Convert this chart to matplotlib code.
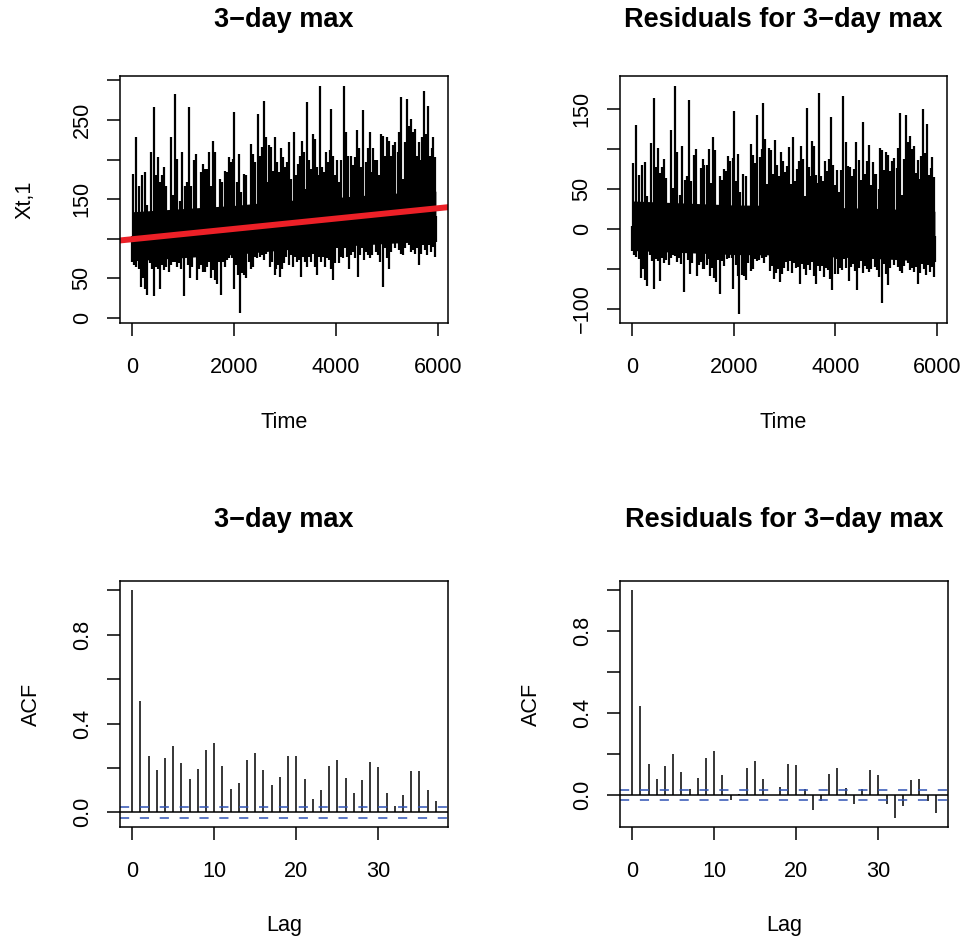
import numpy as np
import matplotlib.pyplot as plt

plt.rcParams['font.family'] = ['Liberation Sans', 'DejaVu Sans']

# 3-day max series: upper spike tips and lower spike tips
up_t = [20, 79, 138, 197, 262, 301, 380, 425, 471, 510, 549, 589, 628, 674, 719,
        759, 798, 844, 883, 942, 987, 1033, 1079, 1125, 1164, 1210, 1255, 1308,
        1347, 1386, 1425, 1465, 1510, 1556, 1595, 1634, 1687, 1726, 1765, 1818,
        1857, 1896, 1935, 1981, 2007, 2053, 2092, 2131, 2190, 2236, 2275, 2334,
        2373, 2419, 2464, 2510, 2549, 2582, 2621, 2660, 2693, 2732, 2771, 2811,
        2850, 2889, 2928, 2968, 3007, 3046, 3085, 3124, 3170, 3209, 3249, 3288,
        3327, 3366, 3405, 3438, 3477, 3510, 3549, 3588, 3628, 3660, 3687, 3726,
        3765, 3798, 3837, 3876, 3909, 3948, 3987, 4026, 4065, 4105, 4150, 4203,
        4242, 4288, 4327, 4366, 4412, 4458, 4497, 4536, 4582, 4621, 4660, 4699,
        4732, 4771, 4810, 4850, 4889, 4928, 4967, 5007, 5046, 5085, 5124, 5163,
        5209, 5242, 5281, 5320, 5360, 5399, 5431, 5471, 5503, 5542, 5582, 5621,
        5660, 5693, 5726, 5765, 5804, 5843, 5876, 5909, 5941]
up_v = [182, 229, 167, 180, 184, 142, 209, 266, 180, 203, 172, 180, 190, 167, 125,
        228, 155, 283, 201, 148, 209, 167, 172, 267, 167, 199, 207, 130,
        184, 195, 188, 188, 209, 167, 224, 209, 132, 176, 172, 186,
        184, 203, 197, 201, 260, 172, 207, 159, 182, 180, 140, 220,
        207, 197, 258, 205, 216, 274, 228, 172, 218, 216, 186, 228,
        197, 184, 214, 203, 190, 197, 222, 176, 235, 180, 195, 205,
        224, 209, 163, 273, 199, 188, 232, 226, 190, 180, 293, 190,
        184, 209, 197, 212, 264, 205, 180, 199, 172, 199, 293, 235,
        205, 205, 193, 203, 237, 214, 190, 262, 197, 214, 235, 184,
        214, 199, 199, 180, 232, 230, 205, 228, 224, 205, 218, 222,
        209, 235, 279, 176, 222, 277, 243, 251, 235, 239, 205, 222,
        199, 228, 287, 232, 268, 205, 214, 228, 203]

dn_t = [1, 40, 79, 131, 170, 223, 262, 295, 347, 393, 432, 471, 510, 549, 589,
        628, 674, 719, 759, 798, 844, 883, 929, 968, 1020, 1059, 1098, 1138,
        1177, 1216, 1268, 1308, 1347, 1386, 1425, 1465, 1504, 1543, 1582, 1621,
        1661, 1700, 1739, 1778, 1818, 1870, 1909, 1961, 1994, 2039, 2079, 2111,
        2157, 2203, 2242, 2288, 2334, 2373, 2419, 2458, 2503, 2549, 2588, 2628,
        2667, 2713, 2752, 2798, 2830, 2870, 2909, 2948, 2987, 3026, 3072, 3111,
        3151, 3190, 3229, 3268, 3307, 3347, 3386, 3425, 3464, 3504, 3543, 3582,
        3621, 3660, 3700, 3739, 3778, 3817, 3857, 3896, 3935, 3987, 4020, 4052,
        4092, 4131, 4170, 4209, 4261, 4301, 4340, 4379, 4425, 4471, 4510, 4549,
        4588, 4627, 4667, 4706, 4745, 4784, 4824, 4863, 4915, 4954, 4993, 5033,
        5072, 5111, 5150, 5190, 5229, 5268, 5307, 5346, 5386, 5425, 5464, 5503,
        5542, 5582, 5621, 5660, 5699, 5739, 5778, 5817, 5856, 5895, 5935, 5960]
dn_v = [71, 67, 64, 62, 39, 50, 37, 29, 69, 62, 27, 64, 62, 37, 67,
        60, 64, 58, 67, 71, 71, 64, 69, 62, 27, 77, 67, 50,
        64, 81, 48, 62, 67, 58, 58, 64, 71, 50, 60, 48,
        43, 71, 29, 71, 64, 73, 75, 75, 37, 67, 54, 6,
        56, 54, 50, 71, 62, 64, 77, 75, 77, 79, 73, 81,
        88, 64, 71, 54, 62, 67, 52, 62, 69, 77, 67, 79,
        64, 77, 71, 73, 52, 77, 71, 64, 77, 71, 81, 64,
        54, 77, 71, 77, 64, 75, 73, 62, 48, 69, 88, 69,
        77, 75, 88, 77, 62, 79, 83, 75, 52, 79, 88, 73,
        83, 79, 75, 79, 94, 83, 79, 71, 39, 88, 75, 62,
        83, 98, 88, 100, 86, 81, 79, 88, 102, 92, 83, 86,
        81, 88, 67, 81, 92, 86, 79, 92, 83, 90, 77, 96]

# dense central band of the series
core_t = [1, 1000, 2000, 3000, 4000, 5000, 5960]
core_lo = [72, 76, 80, 86, 90, 94, 97]
core_hi = [134, 138, 142, 148, 152, 157, 160]

# fitted linear trend (red line)
trend_a = 99.3
trend_b = 0.00653

# ACF values
lags = list(range(38))
acf_x = [1.0, 0.502, 0.253, 0.190, 0.246, 0.300, 0.222, 0.148, 0.193, 0.283,
         0.312, 0.207, 0.103, 0.130, 0.235, 0.267, 0.190, 0.124, 0.159, 0.253,
         0.252, 0.148, 0.060, 0.102, 0.210, 0.237, 0.154, 0.088, 0.144, 0.229,
         0.205, 0.087, 0.027, 0.080, 0.184, 0.187, 0.100, 0.051]
acf_res = [1.0, 0.436, 0.152, 0.079, 0.143, 0.202, 0.113, 0.031, 0.081, 0.181,
           0.217, 0.097, -0.026, 0.008, 0.130, 0.165, 0.079, 0.003, 0.042, 0.151,
           0.149, 0.031, -0.074, -0.028, 0.102, 0.133, 0.037, -0.044, 0.028, 0.123,
           0.096, -0.044, -0.112, -0.052, 0.073, 0.078, -0.029, -0.086]
ci = 0.0254

W, H = 965, 942
fig = plt.figure(figsize=(W / 100, H / 100), dpi=100)


def box(x0, x1, y0, y1):
    return fig.add_axes([x0 / W, 1 - y1 / H, (x1 - x0) / W, (y1 - y0) / H])


ax1 = box(120, 448, 76, 323)
ax2 = box(620, 947, 76, 323)
ax3 = box(120, 448, 581, 827)
ax4 = box(620, 948, 581, 827)

up_t = np.array(up_t); up_v = np.array(up_v, float)
dn_t = np.array(dn_t); dn_v = np.array(dn_v, float)
core_t = np.array(core_t); core_lo = np.array(core_lo, float); core_hi = np.array(core_hi, float)
core_mid = (core_lo + core_hi) / 2


def draw_series(ax, shift):
    # shift(t) = value removed (0 for raw series, trend for residuals)
    ax.fill_between(core_t, core_lo - shift(core_t), core_hi - shift(core_t),
                    color='black', lw=0)
    ax.vlines(up_t, np.interp(up_t, core_t, core_mid) - shift(up_t),
              up_v - shift(up_t), color='black', lw=1.6)
    ax.vlines(dn_t, dn_v - shift(dn_t),
              np.interp(dn_t, core_t, core_mid) - shift(dn_t), color='black', lw=1.6)


draw_series(ax1, lambda t: 0 * t)
ax1.axline((0, trend_a), slope=trend_b, color='#ec2027', lw=4.3)
draw_series(ax2, lambda t: trend_a + trend_b * t)

for ax in (ax1, ax2):
    ax.set_xlim(-238, 6198)
    ax.set_xticks([0, 2000, 4000, 6000])
ax1.set_ylim(-6.6, 305.6)
ax1.set_yticks([0, 50, 100, 150, 200, 250, 300])
ax1.set_yticklabels(['0', '50', '', '150', '', '250', ''])
ax2.set_ylim(-118, 191)
ax2.set_yticks([-100, -50, 0, 50, 100, 150])
ax2.set_yticklabels(['\u2212100', '', '0', '50', '', '150'])

for ax, vals, lo in ((ax3, acf_x, -0.066), (ax4, acf_res, -0.155)):
    ax.vlines(lags, 0, vals, color='black', lw=1.1)
    ax.axhline(0, color='black', lw=1.1)
    for c in (ci, -ci):
        ax.axhline(c, color='#2f52b4', lw=1.1, linestyle=(0, (6, 7)))
    ax.set_xlim(-1.48, 38.48)
    ax.set_ylim(lo, 1.042)
    ax.set_xticks([0, 10, 20, 30])
    ax.set_yticks([0, 0.2, 0.4, 0.6, 0.8, 1.0])
    ax.set_yticklabels(['0.0', '', '0.4', '', '0.8', ''])

titles = ['3\u2212day max', 'Residuals for 3\u2212day max',
          '3\u2212day max', 'Residuals for 3\u2212day max']
for ax, t, ty in zip((ax1, ax2, ax3, ax4), titles, (20, 20, 520, 520)):
    for s in ax.spines.values():
        s.set_linewidth(1.1)
    ax.tick_params(length=9.7, width=1.1, labelsize=15.6, color='black')
    ax.tick_params(axis='x', pad=15)
    ax.tick_params(axis='y', pad=10, labelrotation=90)
    for lab in ax.get_yticklabels():
        lab.set_va('center')
    pos = ax.get_position()
    fig.text((pos.x0 + pos.x1) / 2, 1 - ty / H, t, ha='center', va='center',
             fontsize=19.5, fontweight='bold')

for ax, lab, ly in ((ax1, 'Time', 422), (ax2, 'Time', 422), (ax3, 'Lag', 926), (ax4, 'Lag', 926)):
    pos = ax.get_position()
    fig.text((pos.x0 + pos.x1) / 2, 1 - ly / H, lab, ha='center', va='center', fontsize=15.6)

fig.text(25 / W, 1 - 200 / H, 'Xt,1', rotation=90, ha='center', va='center', fontsize=15.6)
fig.text(31 / W, 1 - 704 / H, 'ACF', rotation=90, ha='center', va='center', fontsize=15.6)
fig.text(531 / W, 1 - 704 / H, 'ACF', rotation=90, ha='center', va='center', fontsize=15.6)

fig.savefig('out.png', dpi=100)
